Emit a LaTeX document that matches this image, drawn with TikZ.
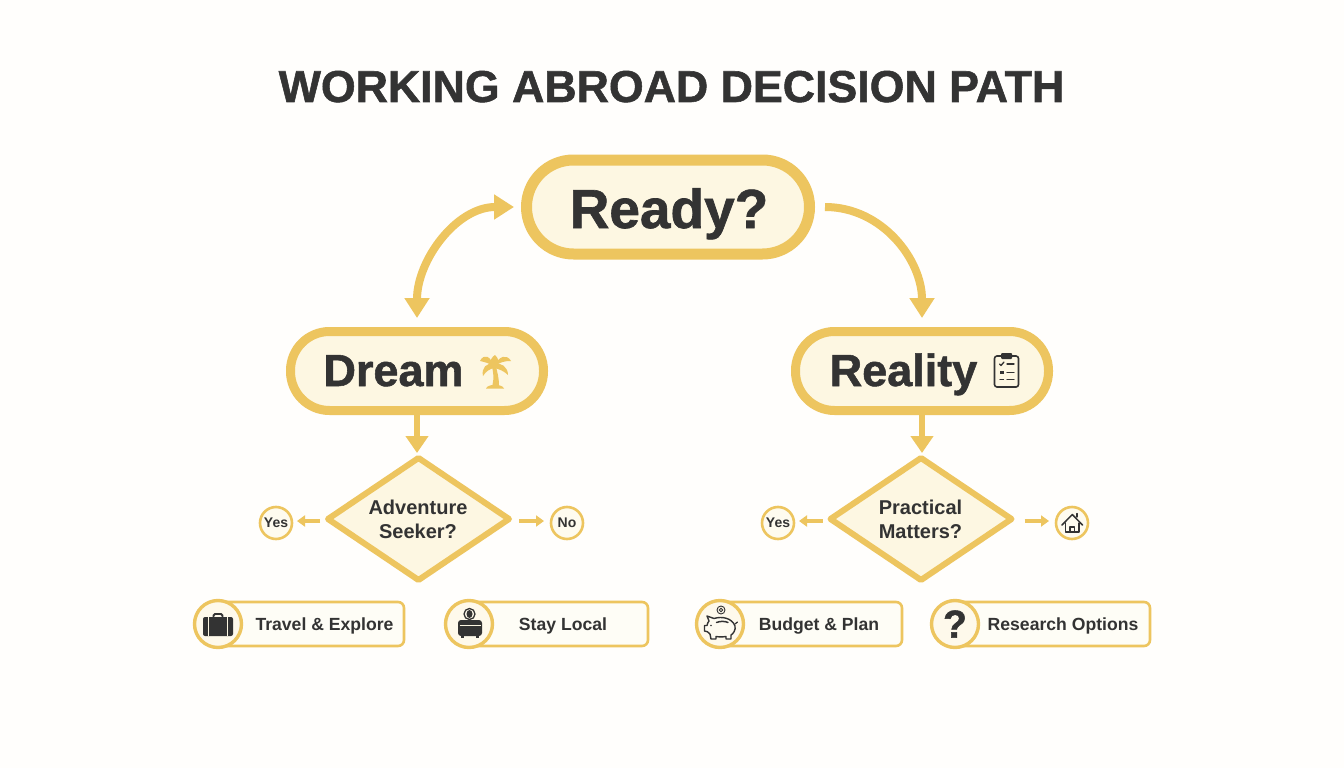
\documentclass[tikz,border=0pt]{standalone}
\usepackage{fontspec}
\setmainfont{Liberation Sans}
\newfontfamily\heavyfont[FakeBold=1.2]{Liberation Sans Bold}
\usetikzlibrary{arrows.meta,shapes.geometric,calc}
\definecolor{gold}{HTML}{EDC55F}
\definecolor{cream}{HTML}{FDF7E2}
\definecolor{ink}{HTML}{333333}
\newcommand{\fz}[1]{\fontsize{#1}{#1}\bfseries\selectfont}
\newcommand{\fh}[1]{\fontsize{#1}{#1}\heavyfont\selectfont}
\tikzset{
  stadium/.style={draw=gold,fill=cream,outer sep=0pt,inner sep=0pt,rounded corners=#1},
  choice/.style={shape=diamond,draw=gold,fill=cream,line width=6pt,line join=round,outer sep=0pt,inner sep=0pt,minimum width=181pt,minimum height=122pt},
  choicetext/.style={text=ink,align=center,inner sep=0pt,font=\fontsize{20}{24}\bfseries\selectfont},
  answer/.style={shape=circle,draw=gold,fill=cream!55!white,line width=2.6pt,outer sep=0pt,inner sep=0pt,minimum size=32pt,text=ink,font=\fz{14}},
  pill/.style={draw=gold,fill=white!70!cream,line width=2.6pt,rounded corners=6pt,outer sep=0pt,inner sep=0pt,minimum height=44pt},
  badge/.style={shape=circle,draw=gold,fill=cream!70!white,line width=3.4pt,outer sep=0pt,inner sep=0pt,minimum size=47pt},
  lbl/.style={text=ink,inner sep=0pt,anchor=base},
  bigarrow/.style={draw=gold,line width=8pt,-{Triangle[width=24pt,length=20pt]}},
  bothways/.style={draw=gold,line width=8pt,{Triangle[width=24pt,length=20pt]}-{Triangle[width=24pt,length=20pt]}},
  downarrow/.style={draw=gold,line width=6.5pt,-{Triangle[width=22pt,length=17pt]}},
  tinyarrow/.style={draw=gold,line width=3.6pt,-{Triangle[width=11pt,length=8pt]}},
  iconline/.style={draw=ink,line width=1.5pt,line join=round,line cap=round},
}
\begin{document}
\begin{tikzpicture}[x=1pt,y=-1pt]
\useasboundingbox (0,0) rectangle (1344,768);
\fill[white!60!cream!25!white] (0,0) rectangle (1344,768);
\node[lbl] (title) at (671.5,102) {\fh{44.7}WORKING ABROAD DECISION PATH};

% main nodes
\node[stadium=47pt,line width=11pt,minimum width=283pt,minimum height=94pt] (ready) at (668,207) {};
\node[lbl] (readyt) at (669,228) {\fh{55}Ready?};
\node[stadium=39pt,line width=9pt,minimum width=253pt,minimum height=79pt] (dream) at (417,371) {};
\node[lbl] (dreamt) at (393.5,386) {\fh{45}Dream};
\node[stadium=39pt,line width=9pt,minimum width=253pt,minimum height=79pt] (reality) at (922,371) {};
\node[lbl] (realityt) at (903.5,386) {\fh{45}Reality};

\node[choice] (adv) at (418.5,519) {};
\node[choicetext] (advt) at (418,519.5) {Adventure\\Seeker?};
\node[choice] (prac) at (921,519) {};
\node[choicetext] (pract) at (920.5,519.5) {Practical\\Matters?};

\node[answer] (yes1) at (276,523) {Yes};
\node[answer] (no1) at (567,523) {No};
\node[answer] (yes2) at (778,523) {Yes};
\node[answer] (home) at (1072,523) {};

% pills
\node[pill,minimum width=189pt] (travel) at (309.5,624) {};
\node[badge] (travelb) at (218,624) {};
\node[lbl] (travelt) at (324.5,630) {\fz{17.6}Travel \& Explore};
\node[pill,minimum width=178pt] (stay) at (559,624) {};
\node[badge] (stayb) at (469,624) {};
\node[lbl] (stayt) at (563,630) {\fz{17.6}Stay Local};
\node[pill,minimum width=180pt] (budget) at (812,624) {};
\node[badge] (budgetb) at (720,624) {};
\node[lbl] (budgett) at (819,630) {\fz{17.6}Budget \& Plan};
\node[pill,minimum width=195pt] (research) at (1052.5,624) {};
\node[badge] (researchb) at (955,624) {};
\node[lbl] (researcht) at (1063,630) {\fz{17.6}Research Options};
\node[lbl,anchor=center] (qmark) at (955,624) {\fh{39}?};

% connectors
\draw[bothways] ([yshift=13.5pt]dream.north) to[out=90,in=180] ([xshift=-12.5pt]ready.west);
\draw[bigarrow] ([xshift=15.5pt]ready.east) to[out=0,in=90] ([yshift=13.5pt]reality.north);
\draw[downarrow] (dream.south) -- ([yshift=5pt]dream.south |- adv.north);
\draw[downarrow] (reality.south) -- ([yshift=5pt]reality.south |- prac.north);
\draw[tinyarrow] ([xshift=-8pt,yshift=-2pt]adv.west) -- ([xshift=5pt,yshift=-2pt]yes1.east |- adv.west);
\draw[tinyarrow] ([xshift=10pt,yshift=-2pt]adv.east) -- ([xshift=-7pt,yshift=-2pt]no1.west |- adv.east);
\draw[tinyarrow] ([xshift=-8pt,yshift=-2pt]prac.west) -- ([xshift=5pt,yshift=-2pt]yes2.east |- prac.west);
\draw[tinyarrow] ([xshift=13pt,yshift=-2pt]prac.east) -- ([xshift=-7pt,yshift=-2pt]home.west |- prac.east);

% palm
\fill[gold] (494,367) .. controls (491,356) and (484,353) .. (480,361) .. controls (484,362) and (490,363) .. (494,367) -- cycle;
\fill[gold] (494,367) .. controls (499,355) and (507,354) .. (511,361) .. controls (505,361) and (499,362) .. (494,367) -- cycle;
\fill[gold] (494,364) .. controls (487,362) and (481,368) .. (483,376) .. controls (486,371) and (490,369) .. (494,368) -- cycle;
\fill[gold] (494,364) .. controls (501,362) and (508,367) .. (508,375) .. controls (504,371) and (499,369) .. (494,368) -- cycle;
\fill[gold] (490,364) .. controls (490,360) and (492,357) .. (495,355) .. controls (498,358) and (499,361) .. (498,364) -- cycle;
\fill[gold] (491.5,365) -- (495.5,365) .. controls (497.5,372) and (499,379) .. (499,385) -- (492.5,385) .. controls (494,378) and (493.5,372) .. (491.5,365) -- cycle;
\fill[gold] (486,388.5) .. controls (488,383.5) and (502,383.5) .. (504,388.5) -- cycle;

% clipboard
\draw[draw=ink,line width=1.6pt,rounded corners=2.5pt] (994.5,356) rectangle (1018.5,387);
\fill[ink,rounded corners=1pt] (1001,353) rectangle (1012,359);
\draw[iconline,line width=1.3pt] (999.5,364) -- (1001,365.5) -- (1004,362);
\draw[iconline,line width=1.3pt] (1007,364) -- (1014,364);
\fill[ink] (999.5,371) rectangle (1003.5,374);
\draw[iconline,line width=1.3pt] (1007,372.5) -- (1014,372.5);
\draw[iconline,line width=1.3pt] (1000,379.5) -- (1003.5,379.5);
\draw[iconline,line width=1.3pt] (1007,379.5) -- (1014,379.5);

% suitcase
\draw[ink,line width=1.8pt,rounded corners=1.5pt] (213.5,618) -- (213.5,614) -- (222.5,614) -- (222.5,618);
\fill[ink,rounded corners=2pt] (203,617) rectangle (233,636);
\draw[cream,line width=1.2pt] (208.5,617) -- (208.5,636);
\draw[cream,line width=1.2pt] (227.5,617) -- (227.5,636);

% person and bag
\draw[ink,line width=1.3pt] (469.5,614) circle (5.5pt);
\fill[ink] (469.5,614) ellipse (3pt and 4pt);
\fill[ink,rounded corners=3pt] (458,620) rectangle (482,636);
\draw[cream,line width=0.8pt] (459.5,625) -- (480.5,625);
\fill[ink] (461,636) rectangle (464,638);
\fill[ink] (476,636) rectangle (479,638);

% piggy
\draw[iconline,fill=white!50!cream,line width=1.4pt] (709,621) -- (707,616) -- (714,618.5)
  .. controls (722,616) and (732,618) .. (735,626)
  .. controls (736,630) and (733,634) .. (731,635) -- (731,639) -- (726,639) -- (726,636.5)
  .. controls (723,637) and (719,637) .. (716,636.5) -- (716,639) -- (711,639) -- (710,634)
  .. controls (708,632) and (707,631) .. (704.5,631) -- (704.5,625.5) -- (707,625.5) .. controls (707.5,623.5) and (708,622) .. (709,621) -- cycle;
\draw[iconline,line width=1.2pt] (735,624) -- (737.5,622);
\draw[iconline,line width=1.5pt] (716.5,622.5) .. controls (720,621) and (725,621) .. (728,622.5);
\fill[ink] (711,625.5) circle (0.9pt);
\draw[ink,line width=0.9pt] (721,610) circle (4pt);
\draw[ink,line width=0.9pt] (721,610) circle (1.7pt);

% house
\draw[iconline] (1062,525) -- (1072.3,514.5) -- (1082.5,525);
\draw[iconline] (1065.5,523) -- (1065.5,532) -- (1079,532) -- (1079,523);
\draw[iconline,line width=1.2pt] (1070,532) -- (1070,527) -- (1074.5,527) -- (1074.5,532);
\draw[iconline,line width=1.3pt] (1077,517) -- (1077,513.5);
\end{tikzpicture}
\end{document}
